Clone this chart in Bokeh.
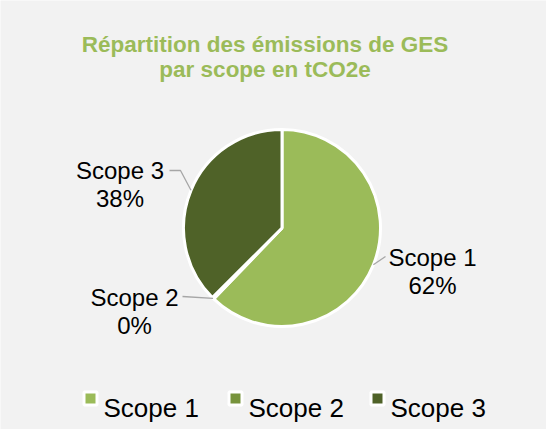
import math
from bokeh.plotting import figure
from bokeh.models import Range1d, ColumnDataSource
from bokeh.core.properties import value
from bokeh.embed import file_html
from bokeh.resources import INLINE

# ---- data ----
categories = ["Scope 1", "Scope 2", "Scope 3"]
shares = [62.2, 0.3, 37.5]          # percent of total tCO2e
colors = ["#9bbb59", "#77933c", "#4f6228"]
title_lines = ["Répartition des émissions de GES", "par scope en tCO2e"]

# ---- layout (pixel-like data units) ----
W, H = 546, 429
CX, CY, R = 281.5, 201.5, 98.5
FONT = value("Liberation Sans")

p = figure(width=W, height=H, output_backend="svg", toolbar_location=None,
           x_range=Range1d(0, W), y_range=Range1d(0, H),
           min_border=0, background_fill_color="#f2f2f2",
           border_fill_color="#f2f2f2")
p.axis.visible = False
p.grid.visible = False
p.outline_line_color = None

# wedges: start at 12 o'clock, clockwise
total = sum(shares)
starts, ends, mids = [], [], []
acc = 0.0
for s in shares:
    a0 = math.pi / 2 - 2 * math.pi * acc / total
    a1 = math.pi / 2 - 2 * math.pi * (acc + s) / total
    starts.append(a0)
    ends.append(a1)
    mids.append((a0 + a1) / 2)
    acc += s

src = ColumnDataSource(dict(start=starts, end=ends, color=colors, cat=categories))
p.wedge(x=CX, y=CY, radius=R, start_angle="start", end_angle="end",
        direction="clock", fill_color="color", line_color="white",
        line_width=3, source=src)

# title
p.text(x=[264.5, 264.5], y=[385, 360], text=title_lines, text_font=FONT,
       text_font_size="22.5px", text_font_style="bold", text_color="#9bbb59",
       text_align="center", text_baseline="alphabetic")

# data labels with leader lines
label_pos = {"Scope 1": (432, 172), "Scope 2": (134, 132), "Scope 3": (119.5, 259)}
leader_end = {"Scope 1": (385, 173), "Scope 2": (182, 133), "Scope 3": (169, 259)}
elbow = {"Scope 3": (180, 259)}
for cat, s, m in zip(categories, shares, mids):
    lx, ly = label_pos[cat]
    pct = f"{round(s)}%"
    p.text(x=[lx, lx], y=[ly, ly - 28], text=[cat, pct], text_font=FONT,
           text_font_size="24px", text_color="black", text_align="center",
           text_baseline="alphabetic")
    ex, ey = CX + R * math.cos(m), CY + R * math.sin(m)
    xs, ys = [ex], [ey]
    if cat in elbow:
        xs.append(elbow[cat][0]); ys.append(elbow[cat][1])
    xs.append(leader_end[cat][0]); ys.append(leader_end[cat][1])
    p.line(xs, ys, line_color="#a6a6a6", line_width=1.3)

# legend
leg_x = [90, 235, 377]
p.scatter(x=leg_x, y=[31] * 3, marker="square", size=13, fill_color=colors,
          line_color="white", line_width=3)
p.text(x=[x + 13 for x in leg_x], y=[22] * 3, text=categories, text_font=FONT,
       text_font_size="26px", text_color="black", text_align="left",
       text_baseline="alphabetic")

open("out.html", "w").write(file_html(p, INLINE))
